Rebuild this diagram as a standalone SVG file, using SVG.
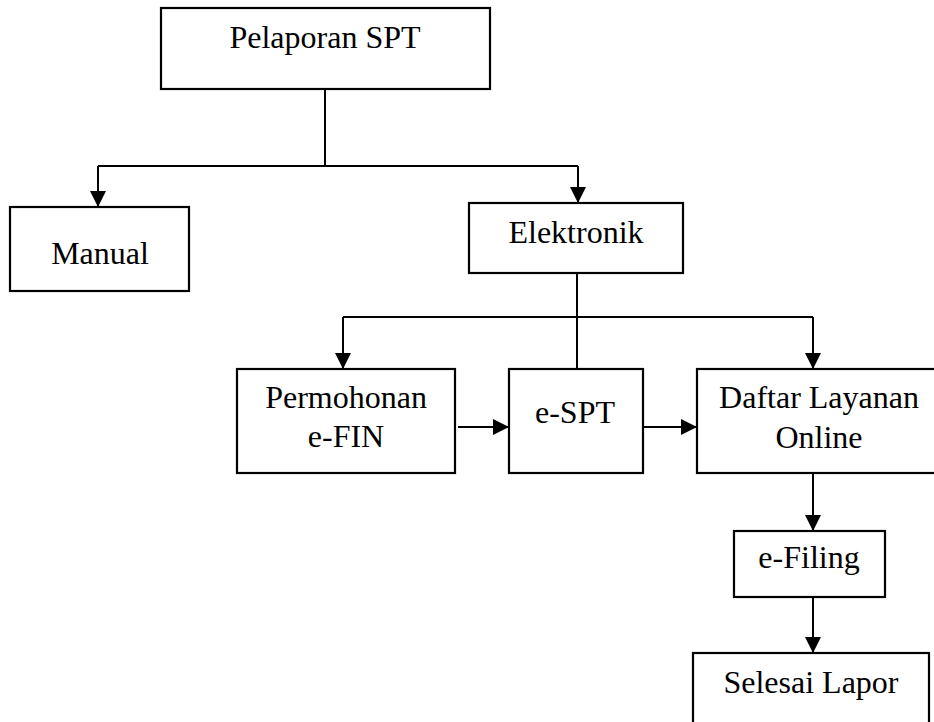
<svg xmlns="http://www.w3.org/2000/svg" width="934" height="722" viewBox="0 0 934 722">
<style>
.box{fill:#fff;stroke:#000;stroke-width:2.2}
.t{font-family:"Liberation Serif","Times New Roman",serif;font-size:32px;fill:#000;text-anchor:middle}
.c{fill:none;stroke:#000;stroke-width:2}
</style>
<defs>
<marker id="ah" markerUnits="userSpaceOnUse" markerWidth="18" markerHeight="18" refX="16" refY="8" orient="auto">
<path d="M0,0 L16,8 L0,16 z" fill="#000"/>
</marker>
</defs>
<rect width="934" height="722" fill="#fff"/>
<g id="connectors">
<path class="c" d="M325,89 V166"/>
<path class="c" d="M98,166 H578"/>
<path class="c" d="M98,166 V207" marker-end="url(#ah)"/>
<path class="c" d="M578,166 V203" marker-end="url(#ah)"/>
<path class="c" d="M577,273 V369"/>
<path class="c" d="M343,317 H813"/>
<path class="c" d="M343,317 V369" marker-end="url(#ah)"/>
<path class="c" d="M813,317 V369" marker-end="url(#ah)"/>
<path class="c" d="M458,427 H509" marker-end="url(#ah)"/>
<path class="c" d="M643,427 H697" marker-end="url(#ah)"/>
<path class="c" d="M813,473 V531" marker-end="url(#ah)"/>
<path class="c" d="M813,597 V653" marker-end="url(#ah)"/>
</g>
<g id="pelaporan">
<rect class="box" x="161" y="8" width="329" height="81"/>
<text class="t" x="325" y="48">Pelaporan SPT</text>
</g>
<g id="manual">
<rect class="box" x="10" y="207" width="179" height="84"/>
<text class="t" x="100" y="264">Manual</text>
</g>
<g id="elektronik">
<rect class="box" x="469" y="203" width="214" height="70"/>
<text class="t" x="576" y="243">Elektronik</text>
</g>
<g id="permohonan">
<rect class="box" x="237" y="369" width="218" height="104"/>
<text class="t" x="346" y="408">Permohonan</text>
<text class="t" x="346" y="447">e-FIN</text>
</g>
<g id="espt">
<rect class="box" x="509" y="369" width="134" height="104"/>
<text class="t" x="575" y="423">e-SPT</text>
</g>
<g id="daftar">
<rect class="box" x="697" y="369" width="250" height="104"/>
<text class="t" x="819" y="408">Daftar Layanan</text>
<text class="t" x="819" y="448">Online</text>
</g>
<g id="efiling">
<rect class="box" x="734" y="531" width="151" height="66"/>
<text class="t" x="809" y="568">e-Filing</text>
</g>
<g id="selesai">
<rect class="box" x="693" y="653" width="236" height="80"/>
<text class="t" x="811" y="693">Selesai Lapor</text>
</g>
</svg>
